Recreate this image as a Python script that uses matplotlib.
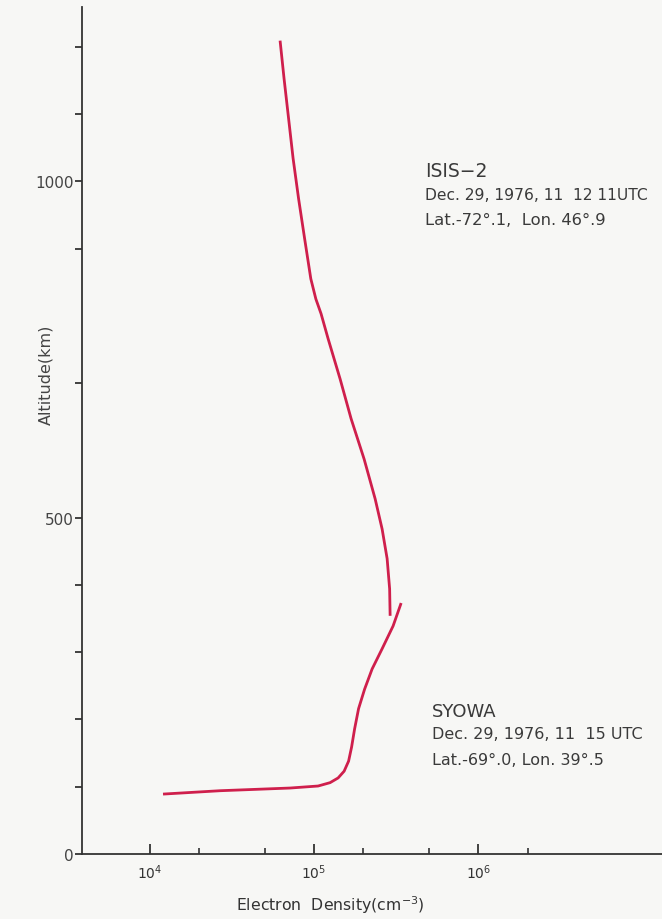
import matplotlib
matplotlib.use("Agg")
import matplotlib.pyplot as plt
from matplotlib.ticker import FixedLocator, NullFormatter, LogFormatterMathtext

# ISIS-2 topside profile (cm^-3, km)
isis_dens = [62040, 65640, 69930, 74470, 80450, 87510, 95500, 102500, 110300,
             121700, 144100, 168100, 201800, 235500, 259800, 278700, 288700, 290700]
isis_alt = [1209, 1152, 1093, 1034, 974, 915, 855, 825, 803,
            766, 706, 647, 587, 528, 483, 439, 394, 354]

# SYOWA ionosonde profile
syowa_dens = [12000, 26720, 71390, 105800, 125200, 140100, 152400, 162300,
              169300, 176600, 186700, 203200, 225800, 259800, 303200, 339300]
syowa_alt = [89, 94, 98, 101, 106, 113, 123, 138,
             159, 186, 216, 245, 275, 305, 339, 373]

y_major = [0, 500, 1000]
y_minor = [100, 200, 300, 400, 700, 900, 1100, 1200]
x_major = [1e4, 1e5, 1e6]
x_minor = [2e4, 5e4, 2e5, 5e5, 2e6]

bg = "#f7f7f5"
red = "#cf1f4c"
ink = "#333333"

fig = plt.figure(figsize=(6.62, 9.2), dpi=100, facecolor=bg)
ax = fig.add_axes([0.1239, 0.0707, 0.8761, 0.9206], facecolor=bg)

ax.plot(isis_dens, isis_alt, color=red, lw=2.0, solid_capstyle="butt")
ax.plot(syowa_dens, syowa_alt, color=red, lw=2.0, solid_capstyle="butt")

ax.set_xscale("log")
ax.set_xlim(3.85e3, 1.32e7)
ax.set_ylim(0, 1259)

for s in ["top", "right"]:
    ax.spines[s].set_visible(False)
for s in ["left", "bottom"]:
    ax.spines[s].set_color(ink)
    ax.spines[s].set_linewidth(1.3)

ax.xaxis.set_major_locator(FixedLocator(x_major))
ax.xaxis.set_minor_locator(FixedLocator(x_minor))
ax.xaxis.set_major_formatter(LogFormatterMathtext())
ax.xaxis.set_minor_formatter(NullFormatter())
ax.tick_params(axis="x", which="major", direction="in", length=7, width=1.3,
               color=ink, labelsize=10, labelcolor=ink, pad=6)
ax.tick_params(axis="x", which="minor", direction="in", length=4.5, width=1.2,
               color=ink)

ax.yaxis.set_major_locator(FixedLocator(y_major))
ax.yaxis.set_minor_locator(FixedLocator(y_minor))
ax.tick_params(axis="y", which="both", direction="out", length=5, width=1.3,
               color=ink, labelsize=11, labelcolor="#444444", pad=1)

ax.set_xlabel("Electron  Density(cm$^{-3}$)", fontsize=11.3, color=ink)
ax.xaxis.set_label_coords(0.428, -0.046)
ax.set_ylabel("Altitude(km)", fontsize=11.5, color="#444444")
ax.yaxis.set_label_coords(-0.05, 0.567)

tc = "#3a3a3a"
fig.text(0.642, 0.808, "ISIS\u22122", fontsize=13.5, color=tc)
fig.text(0.642, 0.783, "Dec. 29, 1976, 11  12 11UTC", fontsize=11.2, color=tc)
fig.text(0.642, 0.755, "Lat.-72\u00b0.1,  Lon. 46\u00b0.9", fontsize=11.8, color=tc)

fig.text(0.652, 0.221, "SYOWA", fontsize=13, color=tc)
fig.text(0.652, 0.197, "Dec. 29, 1976, 11  15 UTC", fontsize=11.5, color=tc)
fig.text(0.652, 0.169, "Lat.-69\u00b0.0, Lon. 39\u00b0.5", fontsize=11.5, color=tc)

fig.savefig("out.png", dpi=100, facecolor=bg)
